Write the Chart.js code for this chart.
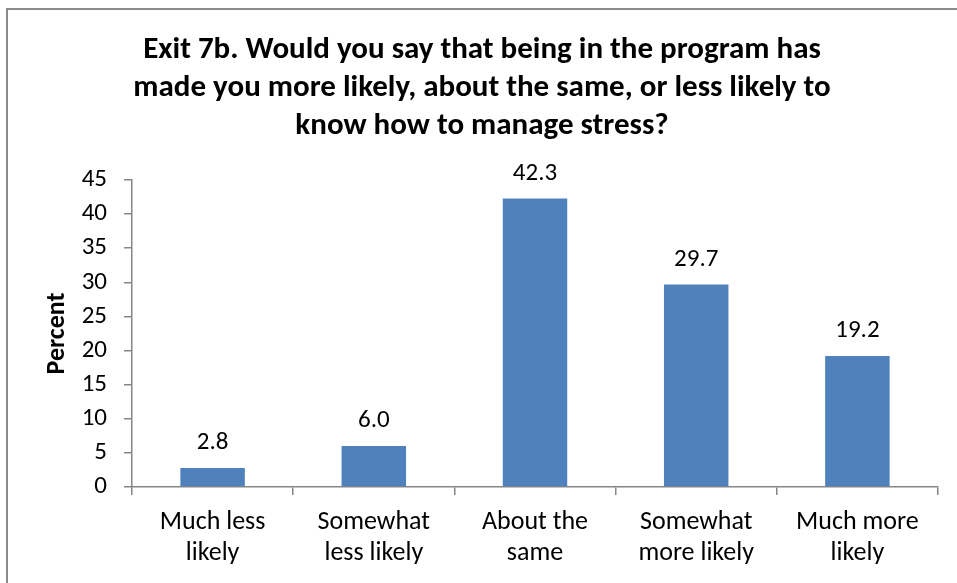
<!DOCTYPE html>
<html>
<head>
<meta charset="utf-8">
<script src="https://cdn.jsdelivr.net/npm/chart.js@4"></script>
<style>
  html, body { margin: 0; padding: 0; background: #fff; }
  #wrap { position: relative; width: 957px; height: 583px; }
</style>
</head>
<body>
<div id="wrap"><canvas id="c" width="957" height="583"></canvas></div>
<script>
const categories = [
  ['Much less', 'likely'],
  ['Somewhat', 'less likely'],
  ['About the', 'same'],
  ['Somewhat', 'more likely'],
  ['Much more', 'likely']
];
const percentValues = [2.8, 6.0, 42.3, 29.7, 19.2];
const titleLines = [
  'Exit 7b. Would you say that being in the program has',
  'made you more likely, about the same, or less likely to',
  'know how to manage stress?'
];
const yAxisTitle = 'Percent';

const FONT = "Carlito, 'Open Sans', sans-serif";
const AXIS_COLOR = '#868686';

const frame = {
  id: 'frame',
  beforeDraw(chart) {
    const ctx = chart.ctx;
    ctx.save();
    ctx.fillStyle = '#ffffff';
    ctx.fillRect(0, 0, chart.width, chart.height);
    ctx.strokeStyle = '#8c8c8c';
    ctx.lineWidth = 2;
    ctx.strokeRect(7, 9, 1000, 1000);
    ctx.restore();
  }
};

const valueLabels = {
  id: 'valueLabels',
  afterDatasetsDraw(chart) {
    const ctx = chart.ctx;
    const meta = chart.getDatasetMeta(0);
    ctx.save();
    ctx.font = '25px ' + FONT;
    ctx.fillStyle = '#000';
    ctx.textAlign = 'center';
    ctx.textBaseline = 'middle';
    meta.data.forEach((bar, i) => {
      ctx.fillText(percentValues[i].toFixed(1), bar.x, bar.y - 25);
    });
    ctx.restore();
  }
};

new Chart(document.getElementById('c'), {
  type: 'bar',
  data: {
    labels: categories,
    datasets: [{
      data: percentValues,
      backgroundColor: '#4F81BD',
      borderWidth: 0,
      barPercentage: 0.4,
      categoryPercentage: 1.0
    }]
  },
  plugins: [frame, valueLabels],
  options: {
    responsive: false,
    animation: false,
    devicePixelRatio: 1,
    layout: { padding: { left: 26, right: 19, top: 0, bottom: 0 } },
    plugins: {
      legend: { display: false },
      tooltip: { enabled: false },
      title: {
        display: true,
        text: titleLines,
        color: '#000',
        font: { family: FONT, size: 31, weight: 'bold', lineHeight: '38px' },
        padding: { top: 31, bottom: 35 }
      }
    },
    scales: {
      x: {
        afterFit(scale) { scale.height = 96; },
        offset: true,
        grid: {
          offset: true,
          drawOnChartArea: false,
          drawTicks: true,
          tickLength: 8,
          color: AXIS_COLOR,
          lineWidth: 1.5
        },
        border: { display: true, color: AXIS_COLOR, width: 1.5 },
        ticks: {
          color: '#000',
          padding: 12,
          maxRotation: 0,
          autoSkip: false,
          font: { family: FONT, size: 26, lineHeight: '31px' }
        }
      },
      y: {
        afterFit(scale) { scale.width = 106; },
        min: 0,
        max: 45,
        grid: {
          drawOnChartArea: false,
          drawTicks: true,
          tickLength: 8,
          color: AXIS_COLOR,
          lineWidth: 1.5
        },
        border: { display: true, color: AXIS_COLOR, width: 1.5 },
        ticks: {
          stepSize: 5,
          color: '#000',
          padding: 17,
          font: { family: FONT, size: 25 }
        },
        title: {
          display: true,
          text: yAxisTitle,
          color: '#000',
          font: { family: FONT, size: 26, weight: 'bold', lineHeight: '31px' },
          padding: { top: 16, bottom: 0 }
        }
      }
    }
  }
});
</script>
</body>
</html>
